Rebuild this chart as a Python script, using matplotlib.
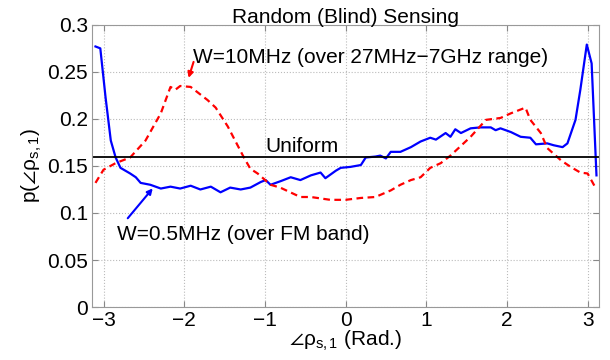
import numpy as np
import matplotlib
matplotlib.use("Agg")
from matplotlib import pyplot as plt

plt.rcParams['font.family'] = ['Liberation Sans', 'DejaVu Sans']
plt.rcParams['mathtext.fontset'] = 'custom'
plt.rcParams['mathtext.rm'] = 'Liberation Sans'
plt.rcParams['mathtext.it'] = 'Liberation Sans'

# W=0.5MHz (over FM band)
x_fm = [-3.10, -3.04, -2.975, -2.91, -2.85, -2.79, -2.67, -2.60, -2.54, -2.42, -2.29,
        -2.17, -2.05, -1.92, -1.80, -1.67, -1.55, -1.43, -1.30, -1.18, -1.05, -0.99,
        -0.93, -0.80, -0.68, -0.56, -0.43, -0.31, -0.25, -0.12, -0.06, 0.06, 0.19,
        0.25, 0.37, 0.43, 0.50, 0.56, 0.68, 0.81, 0.93, 1.05, 1.12, 1.24, 1.30, 1.36,
        1.43, 1.55, 1.67, 1.80, 1.86, 1.92, 2.05, 2.17, 2.29, 2.36, 2.50, 2.58, 2.69,
        2.75, 2.85, 2.91, 2.99, 3.05, 3.11]
y_fm = [0.277, 0.275, 0.223, 0.177, 0.159, 0.148, 0.142, 0.138, 0.132, 0.130, 0.126,
        0.128, 0.126, 0.129, 0.125, 0.128, 0.122, 0.127, 0.125, 0.127, 0.133, 0.135,
        0.130, 0.134, 0.138, 0.135, 0.140, 0.143, 0.137, 0.145, 0.148, 0.149, 0.151,
        0.159, 0.160, 0.161, 0.158, 0.165, 0.165, 0.170, 0.176, 0.180, 0.178, 0.185,
        0.181, 0.189, 0.185, 0.190, 0.191, 0.191, 0.188, 0.190, 0.186, 0.181, 0.180,
        0.173, 0.174, 0.172, 0.170, 0.174, 0.199, 0.231, 0.279, 0.259, 0.140]

# W=10MHz (over 27MHz-7GHz range)
x_wide = [-3.10, -3.00, -2.85, -2.67, -2.48, -2.29, -2.17, -2.11, -2.05, -1.92, -1.71,
          -1.61, -1.46, -1.26, -1.18, -1.09, -0.93, -0.81, -0.56, -0.43, -0.19, 0.0,
          0.19, 0.37, 0.56, 0.68, 0.81, 0.93, 1.05, 1.18, 1.30, 1.55, 1.74, 1.92, 2.05,
          2.23, 2.29, 2.42, 2.50, 2.67, 2.79, 2.91, 3.00, 3.11]
y_wide = [0.132, 0.146, 0.153, 0.159, 0.177, 0.206, 0.234, 0.231, 0.235, 0.234, 0.220,
          0.212, 0.192, 0.159, 0.147, 0.142, 0.130, 0.127, 0.117, 0.117, 0.114, 0.114,
          0.116, 0.117, 0.124, 0.130, 0.135, 0.138, 0.148, 0.153, 0.161, 0.181, 0.199,
          0.201, 0.206, 0.212, 0.199, 0.185, 0.169, 0.156, 0.149, 0.143, 0.142, 0.125]

uniform = 1 / (2 * np.pi)

fs = 15

fig = plt.figure(figsize=(6.1, 3.6), dpi=100)
ax = fig.add_axes([0.151, 0.147, 0.831, 0.784])

ax.plot(x_fm, y_fm, color='#0000ff', lw=1.6)
ax.plot(x_wide, y_wide, color='#ff0000', lw=1.6, ls=(0, (3, 2)))
ax.axhline(uniform, color='black', lw=1.3)

ax.set_xlim(-np.pi, np.pi)
ax.set_ylim(0, 0.3)
ax.set_xticks([-3, -2, -1, 0, 1, 2, 3])
ax.set_xticklabels(['\u22123', '\u22122', '\u22121', '0', '1', '2', '3'])
ax.set_yticks([0, 0.05, 0.1, 0.15, 0.2, 0.25, 0.3])
ax.set_yticklabels(['0', '0.05', '0.1', '0.15', '0.2', '0.25', '0.3'])
ax.tick_params(direction='in', top=True, right=True, labelsize=fs, length=4,
               color='#888888', pad=3)
for s in ax.spines.values():
    s.set_color('#999999')
ax.grid(True, ls=':', color='#bbbbbb', lw=0.8)

ax.set_title('Random (Blind) Sensing', fontsize=fs, pad=1)
ax.set_xlabel(r'$\angle\rho_{s,1}$ (Rad.)', fontsize=fs, labelpad=-1)
ax.set_ylabel(r'p($\angle\rho_{s,1}$)', fontsize=fs, labelpad=2)

ax.text(-1.89, 0.265, 'W=10MHz (over 27MHz\u22127GHz range)', fontsize=fs,
        va='center', ha='left')
ax.annotate('', xy=(-1.946, 0.2436), xytext=(-1.884, 0.2606),
            arrowprops=dict(arrowstyle='-|>', color='#ff0000', lw=1.5,
                            mutation_scale=8, shrinkA=0, shrinkB=0))
ax.text(-0.99, 0.171, 'Uniform', fontsize=fs, va='center', ha='left')
ax.text(-2.83, 0.077, 'W=0.5MHz (over FM band)', fontsize=fs, va='center', ha='left')
ax.annotate('', xy=(-2.39, 0.1262), xytext=(-2.70, 0.0944),
            arrowprops=dict(arrowstyle='-|>', color='#0000ff', lw=1.5,
                            mutation_scale=8, shrinkA=0, shrinkB=0))

fig.savefig('out.png', dpi=100)
